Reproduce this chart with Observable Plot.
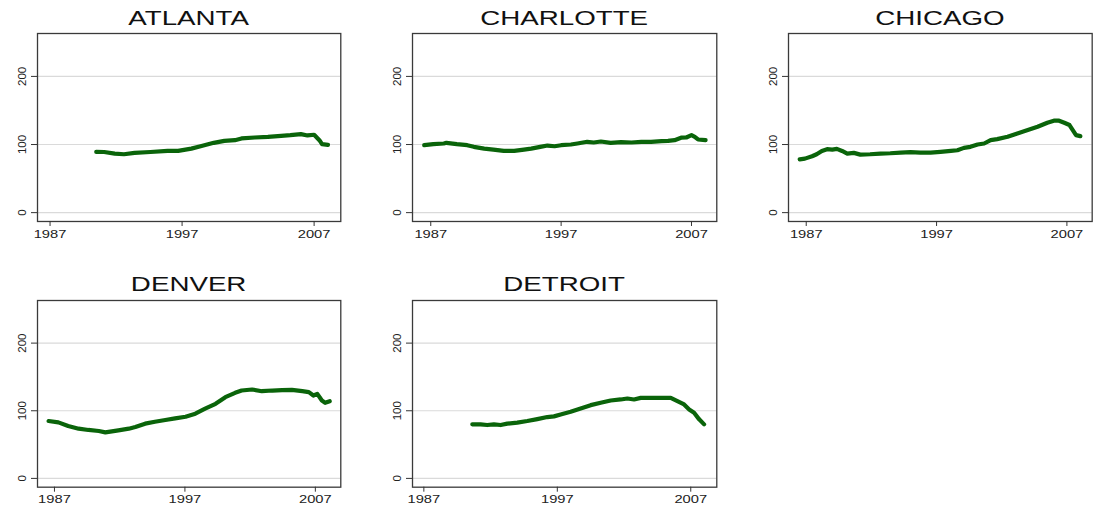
<!DOCTYPE html>
<html>
<head>
<meta charset="utf-8">
<script src="https://cdn.jsdelivr.net/npm/d3@7"></script>
<script src="https://cdn.jsdelivr.net/npm/@observablehq/plot@0.6"></script>
<style>
  html, body { margin: 0; padding: 0; background: #fff; }
  #wrap { position: relative; width: 1096px; height: 508px; background: #fff; overflow: hidden; }
  .ttl { position: absolute; font-family: "Liberation Sans", Arial, Helvetica, sans-serif; font-size: 21px; color: #111; text-align: center; line-height: 1; white-space: nowrap; transform: scaleX(1.32); transform-origin: 50% 50%; }
  .pnl { position: absolute; }
</style>
</head>
<body>
<div id="wrap"></div>
<script>
// ---- data (year, index value) ----
const cities = ["ATLANTA", "CHARLOTTE", "CHICAGO", "DENVER", "DETROIT"];
const xTicks = [1987, 1997, 2007];
const yTicks = [0, 100, 200];

const atlanta = [
  [1990.5, 89.2], [1991.1, 89], [1991.9, 86.7], [1992.6, 85.7], [1993.4, 87.7],
  [1994.6, 89], [1995.9, 90.6], [1996.7, 90.6], [1997.7, 94], [1998.4, 97.5],
  [1999.4, 102.5], [2000.2, 105.4], [2001.0, 106.4], [2001.5, 108.9], [2002.5, 110.3],
  [2003.5, 111.3], [2004.5, 112.8], [2005.2, 113.8], [2006.0, 115.3], [2006.5, 113.3],
  [2007.0, 114.3], [2007.4, 106.4], [2007.6, 100.5], [2008.05, 99.5]
];
const charlotte = [
  [1986.5, 99], [1987.2, 100.5], [1988.0, 101.5], [1988.2, 102.5], [1989.0, 100.5],
  [1989.8, 99], [1990.3, 96.6], [1991.1, 94], [1991.8, 92.6], [1992.6, 90.6],
  [1993.4, 90.6], [1994.15, 92.6], [1994.7, 94], [1995.4, 96.6], [1995.95, 98.5],
  [1996.5, 97.5], [1997.0, 99], [1997.75, 100], [1998.25, 101.5], [1999.0, 104],
  [1999.5, 103], [2000.05, 104.4], [2000.8, 102.5], [2001.6, 103.4], [2002.4, 103],
  [2003.15, 104], [2003.9, 104], [2004.7, 105], [2005.2, 105.4], [2005.7, 106.4],
  [2006.2, 110], [2006.6, 110.3], [2007.0, 113.8], [2007.25, 111.3], [2007.5, 107.4],
  [2008.08, 106.4]
];
const chicago = [
  [1986.5, 78.3], [1986.9, 79.3], [1987.45, 82.8], [1987.8, 85.7], [1988.2, 90.6],
  [1988.6, 93.1], [1989.0, 92.6], [1989.35, 93.6], [1989.75, 90.6], [1990.15, 86.7],
  [1990.65, 87.7], [1991.15, 85.2], [1991.9, 85.7], [1992.7, 86.7], [1993.45, 87.2],
  [1994.25, 88.2], [1995.0, 88.7], [1995.75, 88.2], [1996.55, 88.2], [1997.3, 89.2],
  [1998.1, 90.6], [1998.6, 91.6], [1999.1, 95.1], [1999.6, 96.6], [2000.15, 100],
  [2000.65, 101.5], [2001.15, 106.4], [2001.65, 107.9], [2002.45, 111.3], [2003.2, 116.3],
  [2004.0, 121.2], [2004.75, 126.1], [2005.5, 132], [2006.0, 135], [2006.4, 135],
  [2006.8, 132], [2007.2, 128.6], [2007.45, 121.2], [2007.7, 113.8], [2008.03, 112.3]
];
const denver = [
  [1986.55, 84.8], [1987.3, 82.8], [1988.05, 77.5], [1988.85, 73.5], [1989.6, 71.6],
  [1990.4, 70.1], [1990.9, 68.1], [1991.4, 69.6], [1991.9, 71.1], [1992.7, 73.5],
  [1993.2, 76], [1993.95, 80.9], [1994.7, 83.8], [1995.5, 86.3], [1996.25, 88.7],
  [1997.05, 91.2], [1997.8, 95.6], [1998.55, 103], [1999.35, 110.3], [2000.1, 120.1],
  [2000.85, 126.5], [2001.35, 129.9], [2002.15, 131.4], [2002.9, 128.9], [2003.7, 129.9],
  [2004.45, 130.4], [2005.2, 130.9], [2006.0, 128.9], [2006.5, 127.5], [2006.85, 122.5],
  [2007.15, 125], [2007.5, 115.2], [2007.75, 111.8], [2008.1, 114.2]
];
const detroit = [
  [1990.63, 79.9], [1991.25, 79.9], [1991.75, 78.9], [1992.25, 79.9], [1992.75, 78.9],
  [1993.25, 80.9], [1994.0, 82.4], [1994.75, 84.8], [1995.5, 87.7], [1996.25, 90.7],
  [1996.75, 91.7], [1997.25, 94.6], [1998.0, 98.5], [1998.75, 103.4], [1999.5, 108.3],
  [2000.25, 111.8], [2001.0, 115.2], [2001.75, 116.7], [2002.25, 118.1], [2002.75, 116.7],
  [2003.25, 119.1], [2004.0, 119.1], [2004.75, 119.1], [2005.5, 119.1], [2006.0, 114.2],
  [2006.5, 109.3], [2006.88, 102], [2007.25, 97], [2007.63, 87.3], [2008.0, 79.9]
];
const series = [atlanta, charlotte, chicago, denver, detroit];

// ---- layout (frame boxes in page pixels) ----
const frames = [
  {L: 36.7, R: 340, T: 33, B: 221, xd: [1986.05, 2009.02], ty: 7},
  {L: 411.7, R: 716, T: 33, B: 221, xd: [1985.6, 2008.94], ty: 7},
  {L: 788.3, R: 1092, T: 33, B: 221, xd: [1985.64, 2008.94], ty: 7},
  {L: 36.7, R: 340, T: 300, B: 486.7, xd: [1985.7, 2008.95], ty: 273},
  {L: 411.7, R: 716, T: 300, B: 486.7, xd: [1986.15, 2008.95], ty: 273}
];

const wrap = document.getElementById("wrap");
const mL = 37, mR = 4, mT = 4, mB = 24;

cities.forEach((name, i) => {
  const f = frames[i];
  const data = series[i].map(([x, y]) => ({x, y}));
  const plot = Plot.plot({
    width: (f.R - f.L) + mL + mR,
    height: (f.B - f.T) + mT + mB,
    marginLeft: mL, marginRight: mR, marginTop: mT, marginBottom: mB,
    style: {fontFamily: "'Liberation Sans', Arial, Helvetica, sans-serif", fontSize: "11.5px", color: "#222", background: "transparent", overflow: "visible"},
    x: {domain: f.xd, axis: null},
    y: {domain: [-13, 263], axis: null},
    marks: [
      Plot.ruleY(yTicks, {stroke: "#dadada", strokeWidth: 1.2}),
      Plot.frame({stroke: "#3a3a3a", strokeWidth: 1.3}),
      Plot.axisX({ticks: xTicks, tickFormat: d => String(d), tickSize: 5, tickPadding: 3, label: null, stroke: "#333"}),
      Plot.axisY({ticks: yTicks, tickSize: 6, tickRotate: -90, tickPadding: 6, label: null, stroke: "#333"}),
      Plot.line(data, {x: "x", y: "y", stroke: "#0a640a", strokeWidth: 4.2, strokeLinejoin: "round", strokeLinecap: "round"})
    ]
  });
  // widen the x tick labels like the reference's wide lettering
  plot.querySelectorAll('g[aria-label="x-axis tick label"] text').forEach(t => {
    t.setAttribute("transform", (t.getAttribute("transform") || "") + " scale(1.28,1)");
  });
  plot.classList.add("pnl");
  plot.style.left = (f.L - mL) + "px";
  plot.style.top = (f.T - mT) + "px";
  wrap.appendChild(plot);

  const t = document.createElement("div");
  t.className = "ttl";
  t.textContent = name;
  t.style.left = f.L + "px";
  t.style.width = (f.R - f.L) + "px";
  t.style.top = f.ty + "px";
  wrap.appendChild(t);
});
</script>
</body>
</html>
